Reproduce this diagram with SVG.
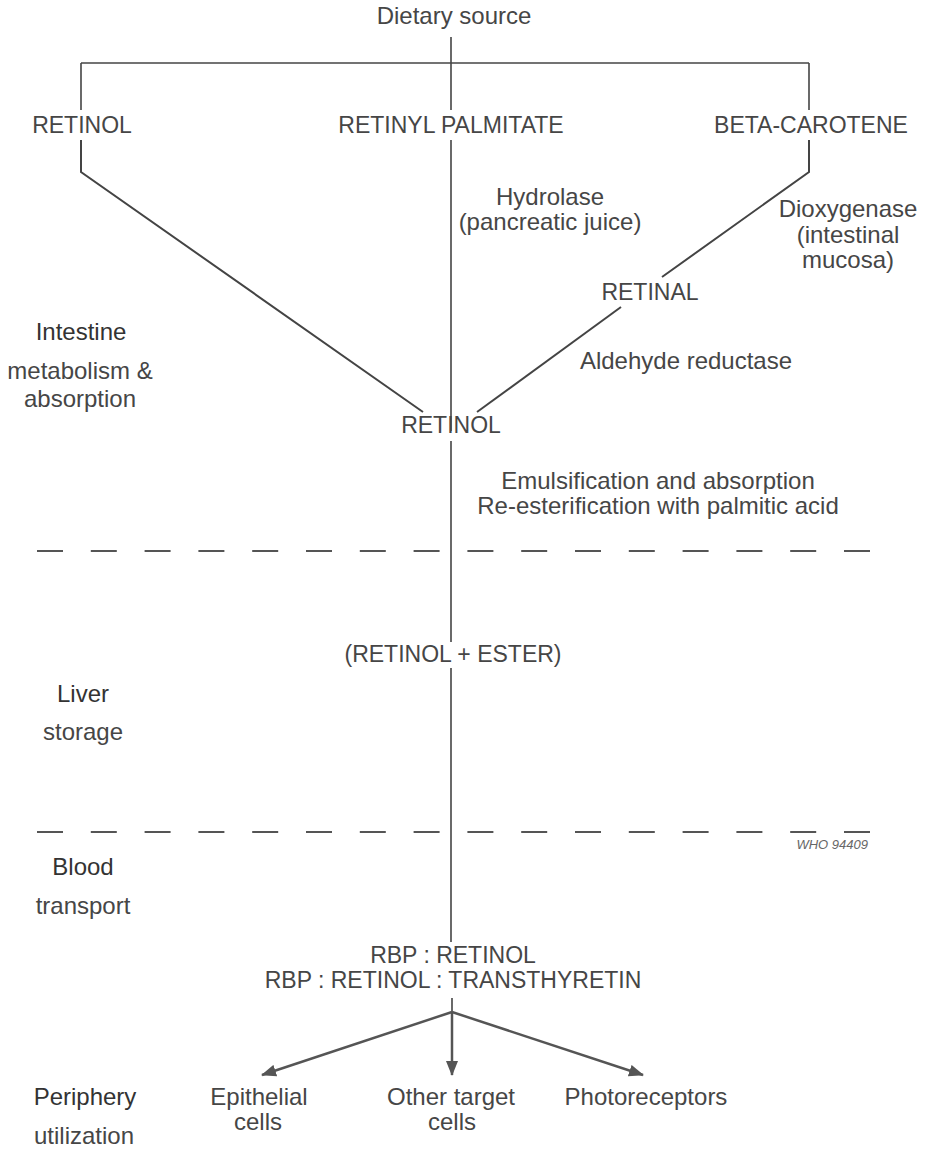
<svg xmlns="http://www.w3.org/2000/svg" width="931" height="1151" viewBox="0 0 931 1151">
<style>
text{font-family:"Liberation Sans",Arial,sans-serif;font-size:24px;fill:#464646;text-anchor:middle}
.cap{font-size:23px}
.reg{fill:#333}
.who{font-size:13px;font-style:italic;fill:#666;text-anchor:end}
.ln{stroke:#444;stroke-width:1.6;fill:none}
.dg{stroke:#444;stroke-width:2;fill:none}
.ds{stroke:#555;stroke-width:2;fill:none;stroke-dasharray:26 27.8}
.ar{stroke:#555;stroke-width:2.5;fill:none}
</style>
<defs>
<marker id="ah" viewBox="0 0 15 12" refX="14" refY="6" markerWidth="15" markerHeight="12" markerUnits="userSpaceOnUse" orient="auto">
<path d="M0,0 L15,6 L0,12 Z" fill="#555"/>
</marker>
</defs>
<rect width="931" height="1151" fill="#fff"/>
<g id="connectors">
<line class="ln" x1="451" y1="37" x2="451" y2="110"/>
<line class="ln" x1="81" y1="63" x2="809" y2="63"/>
<line class="ln" x1="81" y1="63" x2="81" y2="110"/>
<line class="ln" x1="809" y1="63" x2="809" y2="110"/>
<polyline class="dg" points="81,140 81,172 423,412"/>
<polyline class="dg" points="809,140 809,172 662,277"/>
<line class="dg" x1="621" y1="307" x2="477" y2="412"/>
<line class="ln" x1="451" y1="140" x2="451" y2="431"/>
<line class="ln" x1="451" y1="441" x2="451" y2="642"/>
<line class="ln" x1="451" y1="668" x2="451" y2="942"/>
<line class="ln" x1="452" y1="998" x2="452" y2="1012"/>
<line class="ar" x1="452" y1="1012" x2="452" y2="1075" marker-end="url(#ah)"/>
<line class="ar" x1="452" y1="1012" x2="262" y2="1075" marker-end="url(#ah)"/>
<line class="ar" x1="452" y1="1012" x2="643" y2="1075" marker-end="url(#ah)"/>
<line class="ds" x1="37" y1="551" x2="870" y2="551"/>
<line class="ds" x1="37" y1="832" x2="870" y2="832"/>
</g>
<g id="dietary"><text x="454" y="24">Dietary source</text></g>
<g id="retinol-src"><text class="cap" x="82" y="133">RETINOL</text></g>
<g id="retinyl-palmitate"><text class="cap" x="451" y="133">RETINYL PALMITATE</text></g>
<g id="beta-carotene"><text class="cap" x="811" y="133">BETA-CAROTENE</text></g>
<g id="hydrolase"><text x="550" y="205">Hydrolase</text><text x="550" y="230">(pancreatic juice)</text></g>
<g id="dioxygenase"><text x="848" y="217">Dioxygenase</text><text x="848" y="243">(intestinal</text><text x="848" y="268">mucosa)</text></g>
<g id="retinal"><text class="cap" x="650" y="300">RETINAL</text></g>
<g id="aldehyde"><text x="686" y="369">Aldehyde reductase</text></g>
<g id="intestine"><text class="reg" x="81" y="340">Intestine</text><text x="80" y="379">metabolism &amp;</text><text x="80" y="407">absorption</text></g>
<g id="retinol"><text class="cap" x="451" y="433">RETINOL</text></g>
<g id="emulsification"><text x="658" y="489">Emulsification and absorption</text><text x="658" y="514">Re-esterification with palmitic acid</text></g>
<g id="retinol-ester"><text class="cap" x="453" y="662">(RETINOL + ESTER)</text></g>
<g id="liver"><text class="reg" x="83" y="702">Liver</text><text x="83" y="740">storage</text></g>
<g id="who"><text class="who" x="868" y="849">WHO 94409</text></g>
<g id="blood"><text class="reg" x="83" y="875">Blood</text><text x="83" y="914">transport</text></g>
<g id="rbp"><text class="cap" x="453" y="963">RBP : RETINOL</text><text class="cap" x="453" y="988">RBP : RETINOL : TRANSTHYRETIN</text></g>
<g id="periphery"><text class="reg" x="85" y="1105">Periphery</text><text x="84" y="1144">utilization</text></g>
<g id="epithelial"><text x="259" y="1105">Epithelial</text><text x="258" y="1130">cells</text></g>
<g id="other"><text x="451" y="1105">Other target</text><text x="452" y="1130">cells</text></g>
<g id="photoreceptors"><text x="646" y="1105">Photoreceptors</text></g>
</svg>
